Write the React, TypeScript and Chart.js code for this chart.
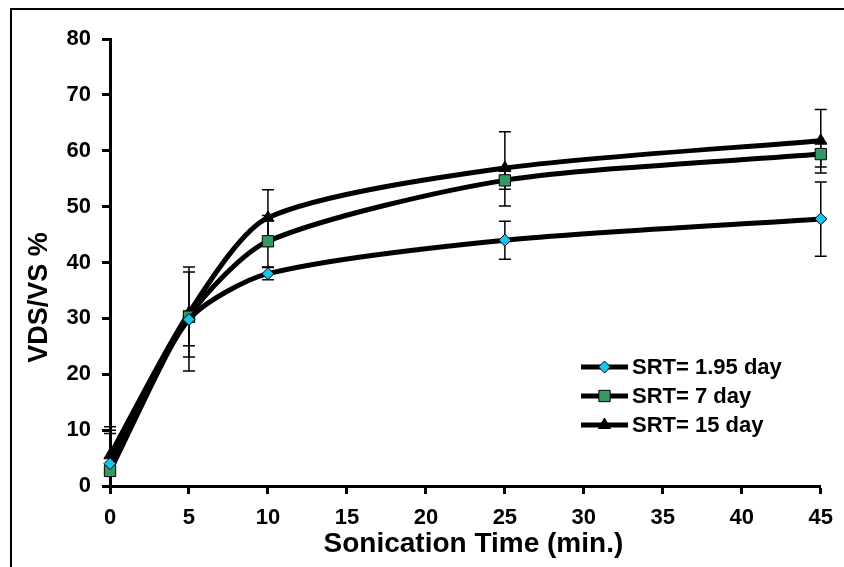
import React, { useEffect, useRef } from 'react';
import { Chart, registerables } from 'chart.js';

Chart.register(...registerables);

// ---- data ----
const times = [0, 5, 10, 25, 45];
const seriesNames = ['SRT= 1.95 day', 'SRT= 7 day', 'SRT= 15 day'];
const srt195 = [4.0, 29.8, 38.0, 44.0, 47.8];
const srt7 = [2.7, 30.3, 43.8, 54.7, 59.4];
const srt15 = [5.5, 31.0, 48.0, 56.9, 61.8];
const srt195ErrPlus = [6.0, 1.5, 1.1, 3.4, 6.6];
const srt195ErrMinus = [6.0, 4.7, 1.1, 3.4, 6.7];
const srt7ErrPlus = [6.7, 8.9, 4.6, 2.0, 2.0];
const srt7ErrMinus = [6.7, 9.7, 4.6, 4.6, 3.4];
const srt15ErrPlus = [5.1, 7.3, 5.0, 6.5, 5.6];
const srt15ErrMinus = [6.0, 7.9, 5.0, 3.8, 4.7];
const xTitle = 'Sonication Time (min.)';
const yTitle = 'VDS/VS %';

const FONT = '"Liberation Sans", Arial, sans-serif';

const errorBarPlugin = {
  id: 'errorBars',
  beforeDatasetsDraw(chart: any) {
    const { ctx, chartArea, scales } = chart;
    const y = scales.y;
    ctx.save();
    ctx.beginPath();
    ctx.rect(chartArea.left - 10, chartArea.top, chartArea.right - chartArea.left + 20, chartArea.bottom - chartArea.top);
    ctx.clip();
    ctx.strokeStyle = '#000';
    ctx.lineWidth = 1.5;
    chart.data.datasets.forEach((ds: any, di: number) => {
      const meta = chart.getDatasetMeta(di);
      ds.data.forEach((p: any, i: number) => {
        const px = meta.data[i].x;
        const top = y.getPixelForValue(p.y + ds.errPlus[i]);
        const bot = y.getPixelForValue(p.y - ds.errMinus[i]);
        ctx.beginPath();
        ctx.moveTo(px, top);
        ctx.lineTo(px, bot);
        ctx.moveTo(px - 6, top);
        ctx.lineTo(px + 6, top);
        ctx.moveTo(px - 6, bot);
        ctx.lineTo(px + 6, bot);
        ctx.stroke();
      });
    });
    ctx.restore();
  },
};

function drawMarker(ctx: CanvasRenderingContext2D, style: string, x: number, y: number, r: number, fill: string) {
  ctx.beginPath();
  if (style === 'rectRot') {
    ctx.moveTo(x - r, y);
    ctx.lineTo(x, y - r);
    ctx.lineTo(x + r, y);
    ctx.lineTo(x, y + r);
  } else if (style === 'rect') {
    const s = r * Math.SQRT1_2;
    ctx.rect(x - s, y - s, 2 * s, 2 * s);
  } else {
    ctx.moveTo(x, y - r);
    ctx.lineTo(x + r * Math.sin(Math.PI / 3), y + r * 0.5);
    ctx.lineTo(x - r * Math.sin(Math.PI / 3), y + r * 0.5);
  }
  ctx.closePath();
  ctx.fillStyle = fill;
  ctx.fill();
  ctx.strokeStyle = '#000';
  ctx.lineWidth = 1;
  ctx.stroke();
}

const decorPlugin = {
  id: 'decor',
  afterDraw(chart: any) {
    const { ctx, chartArea } = chart;
    ctx.save();
    // axis titles
    ctx.fillStyle = '#000';
    ctx.font = `bold 28px ${FONT}`;
    ctx.textAlign = 'center';
    ctx.textBaseline = 'alphabetic';
    const cx = (chartArea.left + chartArea.right) / 2 + 8;
    ctx.fillText(xTitle, cx, chartArea.bottom + 66);
    ctx.font = `bold 27px ${FONT}`;
    const cy = (chartArea.top + chartArea.bottom) / 2 + 35;
    ctx.translate(chartArea.left - 63, cy);
    ctx.rotate(-Math.PI / 2);
    ctx.fillText(yTitle, 0, 0);
    ctx.restore();

    // legend
    ctx.save();
    const lx = chartArea.left + 471;
    const ly = chartArea.top + 328;
    chart.data.datasets.forEach((ds: any, i: number) => {
      const yy = ly + i * 29;
      ctx.strokeStyle = '#000';
      ctx.lineWidth = 5;
      ctx.beginPath();
      ctx.moveTo(lx, yy);
      ctx.lineTo(lx + 47, yy);
      ctx.stroke();
      drawMarker(ctx, ds.pointStyle, lx + 23.5, yy, ds.pointRadius, ds.pointBackgroundColor);
      ctx.fillStyle = '#000';
      ctx.font = `bold 22px ${FONT}`;
      ctx.textAlign = 'left';
      ctx.textBaseline = 'middle';
      ctx.fillText(ds.label, lx + 51, yy + 1);
    });
    ctx.restore();
  },
};

function makeDataset(label: string, vals: number[], plus: number[], minus: number[], style: string, radius: number, fill: string) {
  return {
    label,
    data: times.map((t, i) => ({ x: t, y: vals[i] })),
    errPlus: plus,
    errMinus: minus,
    borderColor: '#000',
    borderWidth: 5,
    tension: 0.25,
    pointStyle: style,
    pointRadius: radius,
    pointBackgroundColor: fill,
    pointBorderColor: '#000',
    pointBorderWidth: 1,
    clip: false,
    fill: false,
  };
}

export default function App() {
  const ref = useRef<HTMLCanvasElement>(null);
  useEffect(() => {
    if (!ref.current) return;
    const axisCommon = {
      grid: { display: true, drawOnChartArea: false, drawTicks: true, tickLength: 8, tickWidth: 3, color: '#000' },
      border: { display: true, width: 3, color: '#000' },
    };
    const chart = new Chart(ref.current, {
      type: 'line',
      data: {
        datasets: [
          makeDataset(seriesNames[0], srt195, srt195ErrPlus, srt195ErrMinus, 'rectRot', 6, '#19C3F0'),
          makeDataset(seriesNames[1], srt7, srt7ErrPlus, srt7ErrMinus, 'rect', 8, '#339966'),
          makeDataset(seriesNames[2], srt15, srt15ErrPlus, srt15ErrMinus, 'triangle', 7, '#000'),
        ] as any,
      },
      options: {
        animation: false,
        responsive: false,
        devicePixelRatio: 1,
        layout: { padding: { left: 0, right: 21, top: 29, bottom: 41 } },
        plugins: { legend: { display: false }, tooltip: { enabled: false } },
        scales: {
          x: {
            type: 'linear',
            min: 0,
            max: 45,
            ...axisCommon,
            ticks: { stepSize: 5, color: '#000', font: { family: FONT, size: 22, weight: 'bold' }, padding: 11 },
            afterFit: (s: any) => { s.height = 40; },
          },
          y: {
            type: 'linear',
            min: 0,
            max: 80,
            ...axisCommon,
            ticks: { stepSize: 10, color: '#000', font: { family: FONT, size: 22, weight: 'bold' }, padding: 11 },
            afterFit: (s: any) => { s.width = 98; },
          },
        } as any,
      },
      plugins: [errorBarPlugin, decorPlugin],
    });
    return () => chart.destroy();
  }, []);
  return (
    <div
      style={{
        position: 'fixed',
        left: 10,
        top: 8,
        right: 0,
        bottom: 0,
        borderTop: '2px solid #000',
        borderLeft: '2px solid #000',
        background: '#fff',
      }}
    >
      <canvas ref={ref} width={832} height={557} style={{ display: 'block', width: 832, height: 557 }} />
    </div>
  );
}
